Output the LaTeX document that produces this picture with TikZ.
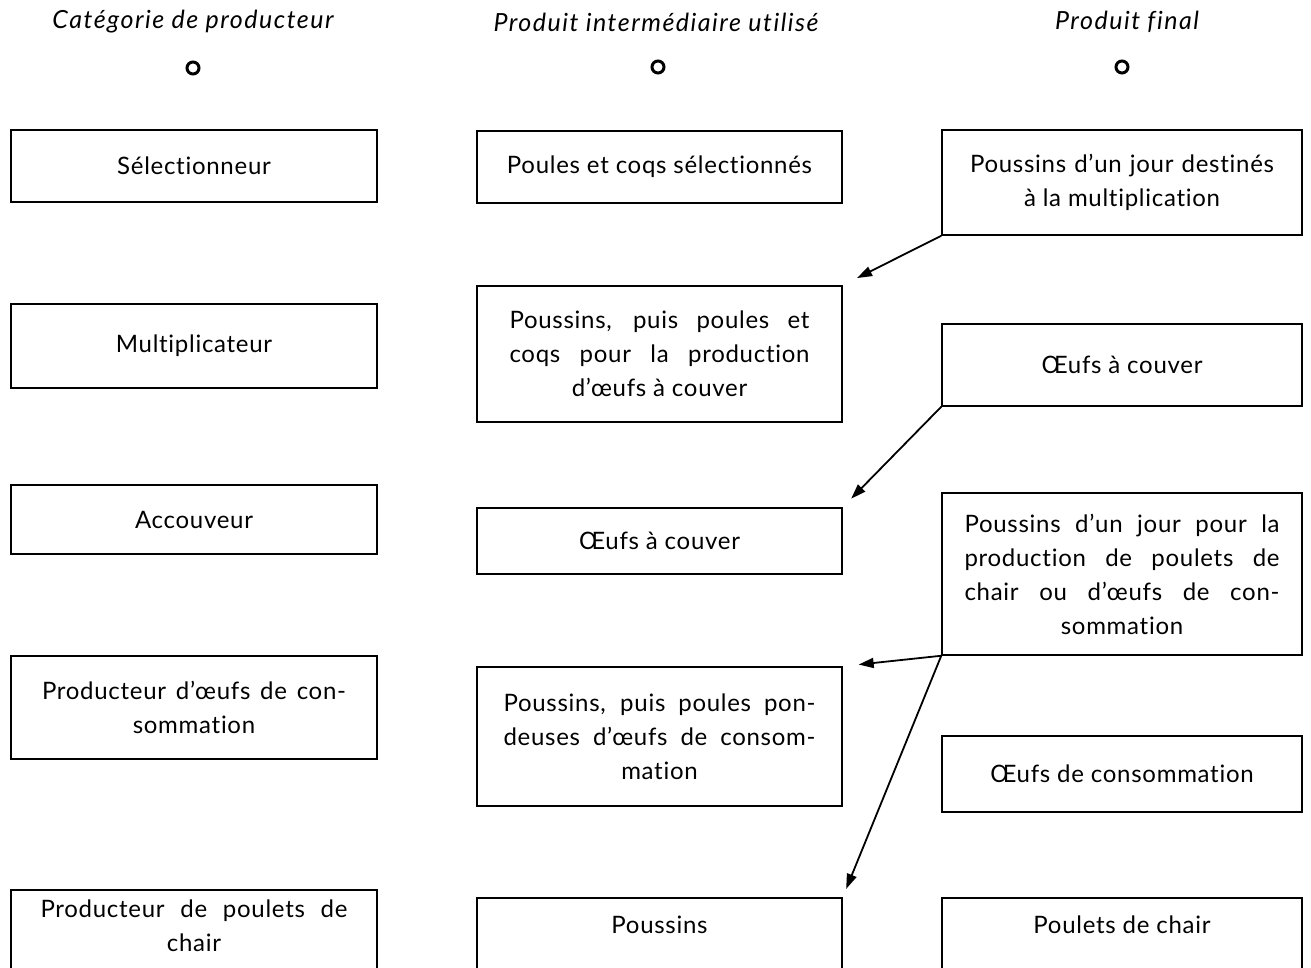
\documentclass[tikz,border=0pt]{standalone}
\usepackage{fontspec}
\setmainfont{Lato}[LetterSpace=3, Ligatures={TeX,NoCommon}]
\newfontfamily\headfont{Lato}[LetterSpace=6, Ligatures={TeX,NoCommon}]
\usetikzlibrary{arrows.meta}
\tikzset{
  every node/.style={font=\fontsize{24}{34}\selectfont},
  box/.style={draw, line width=1.5pt, inner sep=0pt, align=center},
  head/.style={font=\headfont\fontsize{25}{34}\selectfont\itshape},
  dot/.style={draw, circle, line width=3pt, minimum size=12pt, inner sep=0pt},
  flow/.style={line width=1.8pt, -{Triangle[length=15pt,width=10pt]}},
}
\begin{document}
\begin{tikzpicture}[x=1pt,y=-1pt]
\useasboundingbox (0,0) rectangle (1311,968);
\clip (0,0) rectangle (1311,968);
% headers
\node[head] (h1) at (193,22) {Catégorie de producteur};
\node[head] (h2) at (656,22) {Produit intermédiaire utilisé};
\node[head] (h3) at (1127,22) {Produit final};
\node[dot] (o1) at (193,68) {};
\node[dot] (o2) at (658,67) {};
\node[dot] (o3) at (1122,67) {};
% column 1
\node[box, minimum width=366pt, minimum height=72pt] (c1a) at (194,166) {Sélectionneur};
\node[box, minimum width=366pt, minimum height=84pt] (c1b) at (194,346) {Multiplicateur};
\node[box, minimum width=366pt, minimum height=69pt] (c1c) at (194,519.5) {Accouveur};
\node[box, minimum width=366pt, minimum height=103pt] (c1d) at (194,707.5)
  {\makebox[304pt][s]{Producteur d'œufs de con-}\\sommation};
\node[box, minimum width=366pt, minimum height=90pt, text depth=18pt] (c1e) at (194,935)
  {\makebox[307pt][s]{Producteur de poulets de}\\chair};
% column 2
\node[box, minimum width=365pt, minimum height=72pt] (c2a) at (659.5,167) {Poules et coqs sélectionnés};
\node[box, minimum width=365pt, minimum height=136pt] (c2b) at (659.5,354)
  {\makebox[300pt][s]{Poussins, puis poules et}\\\makebox[300pt][s]{coqs pour la production}\\d'œufs à couver};
\node[box, minimum width=365pt, minimum height=66pt] (c2c) at (659.5,541) {Œufs à couver};
\node[box, minimum width=365pt, minimum height=139pt] (c2d) at (659.5,736.5)
  {\makebox[312pt][s]{Poussins, puis poules pon-}\\\makebox[312pt][s]{deuses d'œufs de consom-}\\mation};
\node[box, minimum width=365pt, minimum height=82pt, text height=17pt, text depth=29pt] (c2e) at (659.5,939) {Poussins};
% column 3
\node[box, minimum width=360pt, minimum height=105pt] (c3a) at (1122,182.5)
  {\makebox[304pt][s]{Poussins d'un jour destinés}\\à la multiplication};
\node[box, minimum width=360pt, minimum height=82pt] (c3b) at (1122,365) {Œufs à couver};
\node[box, minimum width=360pt, minimum height=162pt] (c3c) at (1122,574)
  {\makebox[315pt][s]{Poussins d'un jour pour la}\\\makebox[315pt][s]{production de poulets de}\\\makebox[315pt][s]{chair ou d'œufs de con-}\\sommation};
\node[box, minimum width=360pt, minimum height=76pt] (c3d) at (1122,774) {Œufs de consommation};
\node[box, minimum width=360pt, minimum height=82pt, text height=17pt, text depth=29pt] (c3e) at (1122,939) {Poulets de chair};
% arrows
\draw[flow, shorten >=16pt] (c3a.south west) -- (c2b.north east);
\draw[flow, shorten >=12pt] (c3b.south west) -- (c2c.north east);
\draw[flow, shorten >=16pt] (c3c.south west) -- (c2d.north east);
\draw[flow, shorten >=9pt] (c3c.south west) -- (c2e.north east);
\end{tikzpicture}
\end{document}
